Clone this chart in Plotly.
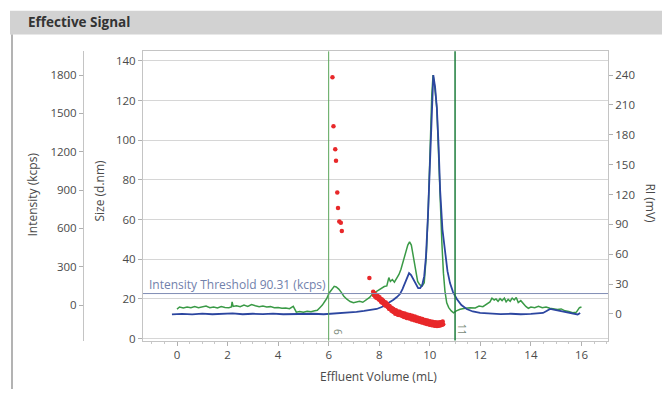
import plotly.graph_objects as go

W, H = 662, 394

# ---------------- data ----------------
volume_green = [0.00, 0.10, 0.25, 0.40, 0.55, 0.70, 0.85, 1.00, 1.15, 1.30, 1.45, 1.60, 1.75, 1.90,
                2.05, 2.15, 2.18, 2.22, 2.35, 2.50, 2.65, 2.80, 2.95, 3.10, 3.25, 3.40, 3.55, 3.70,
                3.85, 4.00, 4.15, 4.30, 4.45, 4.60, 4.72, 4.85, 5.00, 5.15, 5.30, 5.45, 5.55, 5.65,
                5.75, 5.85, 5.92, 6.02, 6.12, 6.22, 6.30, 6.40, 6.50, 6.60, 6.72, 6.85, 6.98, 7.10,
                7.22, 7.35, 7.50, 7.62, 7.72, 7.80, 7.90, 8.00, 8.10, 8.20, 8.30, 8.38, 8.44, 8.52,
                8.60, 8.69, 8.78, 8.86, 8.95, 9.05, 9.13, 9.20, 9.27, 9.35, 9.43, 9.52, 9.60, 9.70,
                9.78, 9.86, 9.94, 10.02, 10.08, 10.13, 10.20, 10.28, 10.35, 10.41, 10.48, 10.54,
                10.60, 10.67, 10.75, 10.85, 10.94, 11.05, 11.20, 11.40, 11.60, 11.80, 11.95, 12.10,
                12.25, 12.38, 12.46, 12.55, 12.62, 12.70, 12.78, 12.86, 12.95, 13.02, 13.10, 13.18,
                13.26, 13.34, 13.42, 13.50, 13.60, 13.70, 13.80, 13.90, 14.00, 14.15, 14.30, 14.45,
                14.60, 14.75, 14.90, 15.05, 15.20, 15.35, 15.50, 15.65, 15.80, 15.92, 16.00]
intensity_kcps = [-31, -15, -23, -15, -20, -12, -20, -15, -8, -20, -15, -23, -12, -18,
                  -20, -15, 25, -10, -5, -12, 0, -10, 5, -5, -12, -8, -15, -12,
                  -20, -18, -25, -22, -28, -10, -55, -50, -55, -48, -52, -45, -40, -20,
                  0, 30, 50, 95, 125, 147, 142, 125, 100, 70, 46, 28, 18, 25,
                  30, 22, 45, 60, 85, 95, 105, 120, 130, 145, 150, 215, 185, 200,
                  180, 205, 240, 280, 340, 420, 470, 495, 470, 380, 270, 185, 160, 150,
                  175, 380, 750, 1300, 1650, 1800, 1700, 1540, 1150, 765, 480, 250,
                  110, 18, -20, -45, -60, -45, -33, -25, -20, -22, -8, -12,
                  10, 25, 55, 40, 48, 30, 50, 35, 55, 25, 45, 30,
                  55, 40, 60, 20, 35, 10, -10, -25, -15, -20, -10, -20,
                  -15, -25, -30, -35, -30, -45, -50, -60, -55, -20, -15]

volume_blue = [-0.20, 0.20, 0.60, 1.00, 1.40, 1.80, 2.20, 2.60, 3.00, 3.40, 3.80, 4.20, 4.60, 5.00,
               5.40, 5.80, 6.20, 6.60, 6.85, 7.10, 7.40, 7.70, 7.90, 8.10, 8.30, 8.45, 8.55, 8.70,
               8.82, 8.92, 9.02, 9.10, 9.18, 9.26, 9.34, 9.44, 9.54, 9.62, 9.70, 9.78, 9.85, 9.93,
               10.01, 10.08, 10.14, 10.21, 10.28, 10.35, 10.41, 10.50, 10.61, 10.70, 10.80, 10.92,
               11.07, 11.25, 11.46, 11.70, 11.99, 12.40, 12.80, 13.20, 13.60, 14.00, 14.30, 14.48,
               14.62, 14.76, 14.95, 15.16, 15.40, 15.67, 15.85, 15.95]
ri_mv = [-0.5, 0, -0.5, 0.3, -0.3, 0, 0.5, -0.3, 0.2, -0.2, 0.3, -0.3, 0, -0.2,
         0.2, -0.3, 0.3, 0.8, 1.3, 2, 3, 4, 5, 7, 10, 12, 14, 17,
         20, 25, 31, 37, 41, 39, 35, 30, 26, 26, 29, 38, 58, 100,
         157, 215, 240, 228, 207, 168, 124, 85, 58, 43, 31, 22,
         15, 9, 5, 2.5, 1, 0.3, -0.2, 0.2, -0.3, 0, 0.5, 1,
         3, 5, 4, 3, 2, 0, -0.5, 1]

volume_size = [6.15, 6.19, 6.26, 6.29, 6.34, 6.37, 6.42, 6.48, 6.52, 7.61,
               7.76, 7.785, 7.81, 7.835, 7.86, 7.885, 7.91, 7.935, 7.96, 7.985,
               8.01, 8.035, 8.06, 8.085, 8.11, 8.135, 8.16, 8.185, 8.21, 8.235,
               8.26, 8.285, 8.31, 8.335, 8.36, 8.385, 8.41, 8.435, 8.46, 8.485,
               8.51, 8.535, 8.56, 8.585, 8.61, 8.635, 8.66, 8.685, 8.71, 8.735,
               8.76, 8.785, 8.81, 8.835, 8.86, 8.885, 8.91, 8.935, 8.96, 8.985,
               9.01, 9.035, 9.06, 9.085, 9.11, 9.135, 9.16, 9.185, 9.21, 9.235,
               9.26, 9.285, 9.31, 9.335, 9.36, 9.385, 9.41, 9.435, 9.46, 9.485,
               9.51, 9.535, 9.56, 9.585, 9.61, 9.635, 9.66, 9.685, 9.71, 9.735,
               9.76, 9.785, 9.81, 9.835, 9.86, 9.885, 9.91, 9.935, 9.96, 9.985,
               10.01, 10.035, 10.06, 10.085, 10.11, 10.135, 10.16, 10.185, 10.21, 10.235,
               10.26, 10.285, 10.31, 10.335, 10.36, 10.385, 10.41, 10.435, 10.46, 10.485,
               10.51, 10.53]
size_dnm = [131.7, 107.0, 95.5, 89.7, 73.6, 65.8, 59.0, 58.4, 54.2, 30.5,
            23.6, 22.0, 22.9, 21.2, 22.2, 20.6, 21.9, 20.4, 21.3, 19.7,
            20.9, 19.3, 20.0, 18.4, 19.7, 18.1, 19.1, 17.5, 18.3, 16.7,
            18.2, 16.6, 17.5, 15.9, 16.7, 15.1, 16.4, 14.8, 15.7, 14.1,
            15.3, 13.7, 14.9, 13.3, 14.2, 12.6, 14.3, 12.7, 13.7, 12.1,
            13.5, 11.9, 13.6, 12.0, 13.1, 11.5, 12.9, 11.3, 12.5, 10.9,
            12.7, 11.1, 12.0, 10.4, 12.2, 10.6, 11.7, 10.1, 11.9, 10.3,
            11.3, 9.7, 11.5, 9.9, 10.9, 9.3, 11.1, 9.5, 10.5, 8.9,
            10.7, 9.1, 10.1, 8.5, 10.3, 8.7, 9.7, 8.1, 9.9, 8.3,
            9.3, 7.7, 9.4, 7.8, 9.0, 7.4, 9.1, 7.5, 8.6, 7.0,
            8.8, 7.2, 8.3, 6.7, 8.5, 6.9, 8.1, 6.5, 8.2, 6.6,
            8.0, 6.4, 8.1, 6.5, 8.0, 6.6, 8.2, 6.7, 8.3, 7.0,
            8.6, 7.3]

x_ticks = [0, 2, 4, 6, 8, 10, 12, 14, 16]
intensity_ticks = [0, 300, 600, 900, 1200, 1500, 1800]
size_ticks = [0, 20, 40, 60, 80, 100, 120, 140]
ri_ticks = [0, 30, 60, 90, 120, 150, 180, 210, 240]
threshold_kcps = 90.31
markers_ml = [6, 11]

# ---------------- layout helpers ----------------
def px(x):
    return x / W

def py(y):
    return 1 - y / H

FONT = "Open Sans"
TICKF = dict(family=FONT, size=11.5, color="#4a4a4a")
AXLINE = "#c4c4c4"

fig = go.Figure()
fig.add_trace(go.Scatter(x=volume_green, y=intensity_kcps, yaxis="y", mode="lines",
                         line=dict(color="#3a9a46", width=1.5), hoverinfo="skip"))
fig.add_trace(go.Scatter(x=volume_blue, y=ri_mv, yaxis="y2", mode="lines",
                         line=dict(color="#2c46a0", width=1.8), hoverinfo="skip"))
fig.add_trace(go.Scatter(x=volume_size, y=size_dnm, yaxis="y3", mode="markers",
                         marker=dict(color="#e8282a", size=4.5), hoverinfo="skip"))

ydom = [py(345), py(52)]

fig.update_layout(
    width=W, height=H, margin=dict(l=0, r=0, t=0, b=0),
    paper_bgcolor="white", plot_bgcolor="white", showlegend=False,
    font=dict(family=FONT),
    xaxis=dict(domain=[px(143), px(608)], range=[-1.345, 17.05], anchor="y",
               tickvals=x_ticks, ticks="outside", ticklen=4, tickcolor="#b0b0b0",
               showline=True, linecolor=AXLINE, mirror=True, showgrid=False, zeroline=False,
               tickfont=TICKF,
               minor=dict(dtick=0.5, ticks="outside", ticklen=2, tickcolor="#c8c8c8", showgrid=False)),
    yaxis=dict(domain=ydom, range=[-278, 1986], anchor="free", position=px(83), side="left",
               tickvals=intensity_ticks, ticks="outside", ticklen=4, tickcolor="#b0b0b0",
               showline=True, linecolor=AXLINE, showgrid=False, zeroline=False, tickfont=TICKF),
    yaxis2=dict(domain=ydom, range=[-26.8, 263.9], overlaying="y", anchor="x", side="right",
                tickvals=ri_ticks, ticks="outside", ticklen=4, tickcolor="#b0b0b0",
                showline=True, linecolor=AXLINE, showgrid=False, zeroline=False, tickfont=TICKF),
    yaxis3=dict(domain=ydom, range=[-1.0, 144.8], overlaying="y", anchor="x", side="left",
                tickvals=size_ticks, ticks="outside", ticklen=4, tickcolor="#b0b0b0",
                showline=True, linecolor=AXLINE, showgrid=True, gridcolor="#d6d6d6",
                zeroline=False, tickfont=TICKF),
)

shapes = [
    # title bar
    dict(type="rect", xref="paper", yref="paper", x0=px(10), x1=1, y0=py(35), y1=py(11),
         fillcolor="#d2d2d2", line=dict(width=0), layer="below"),
    dict(type="line", xref="paper", yref="paper", x0=px(12), x1=px(12), y0=0, y1=py(35),
         line=dict(color="#9a9a9a", width=1.5)),
    # threshold
    dict(type="line", xref="x domain", yref="y", x0=0, x1=1, y0=threshold_kcps, y1=threshold_kcps,
         line=dict(color="#7f8cb4", width=1)),
    # markers
    dict(type="line", xref="x", yref="y domain", x0=markers_ml[0], x1=markers_ml[0], y0=0, y1=1,
         line=dict(color="#5aa55a", width=1)),
    dict(type="line", xref="x", yref="y domain", x0=markers_ml[1], x1=markers_ml[1], y0=0, y1=1,
         line=dict(color="#1d7d3c", width=1.5)),
]
fig.update_layout(shapes=shapes)

def note(text, x, y, size=12, color="#4a4a4a", angle=0, xanchor="center", xref="paper", xshift=0, bold=False):
    return dict(text=text, x=x, y=y, xref=xref, yref="paper", xanchor=xanchor, yanchor="middle",
                textangle=angle, showarrow=False, xshift=xshift,
                font=dict(family=FONT, size=size, color=color))

ann = [
    note("<b>Effective Signal</b>", px(26), py(22), size=13.5, color="#333333", xanchor="left"),
    note("Intensity (kcps)", px(32), py(197), angle=-90),
    note("Size (d.nm)", px(100), py(193), angle=-90),
    note("RI (mV)", px(651), py(206), angle=90),
    note("Effluent Volume (mL)", px(378), py(381)),
    note("Intensity Threshold 90.31 (kcps)", px(147), py(288), size=12, color="#7181ab", xanchor="left"),
    note("6", markers_ml[0], py(336), size=10, color="#7a8a7a", angle=90, xref="x", xshift=10),
    note("11", markers_ml[1], py(333), size=10, color="#7a8a7a", angle=90, xref="x", xshift=7),
]
fig.update_layout(annotations=ann)

fig.write_html("out.html")
